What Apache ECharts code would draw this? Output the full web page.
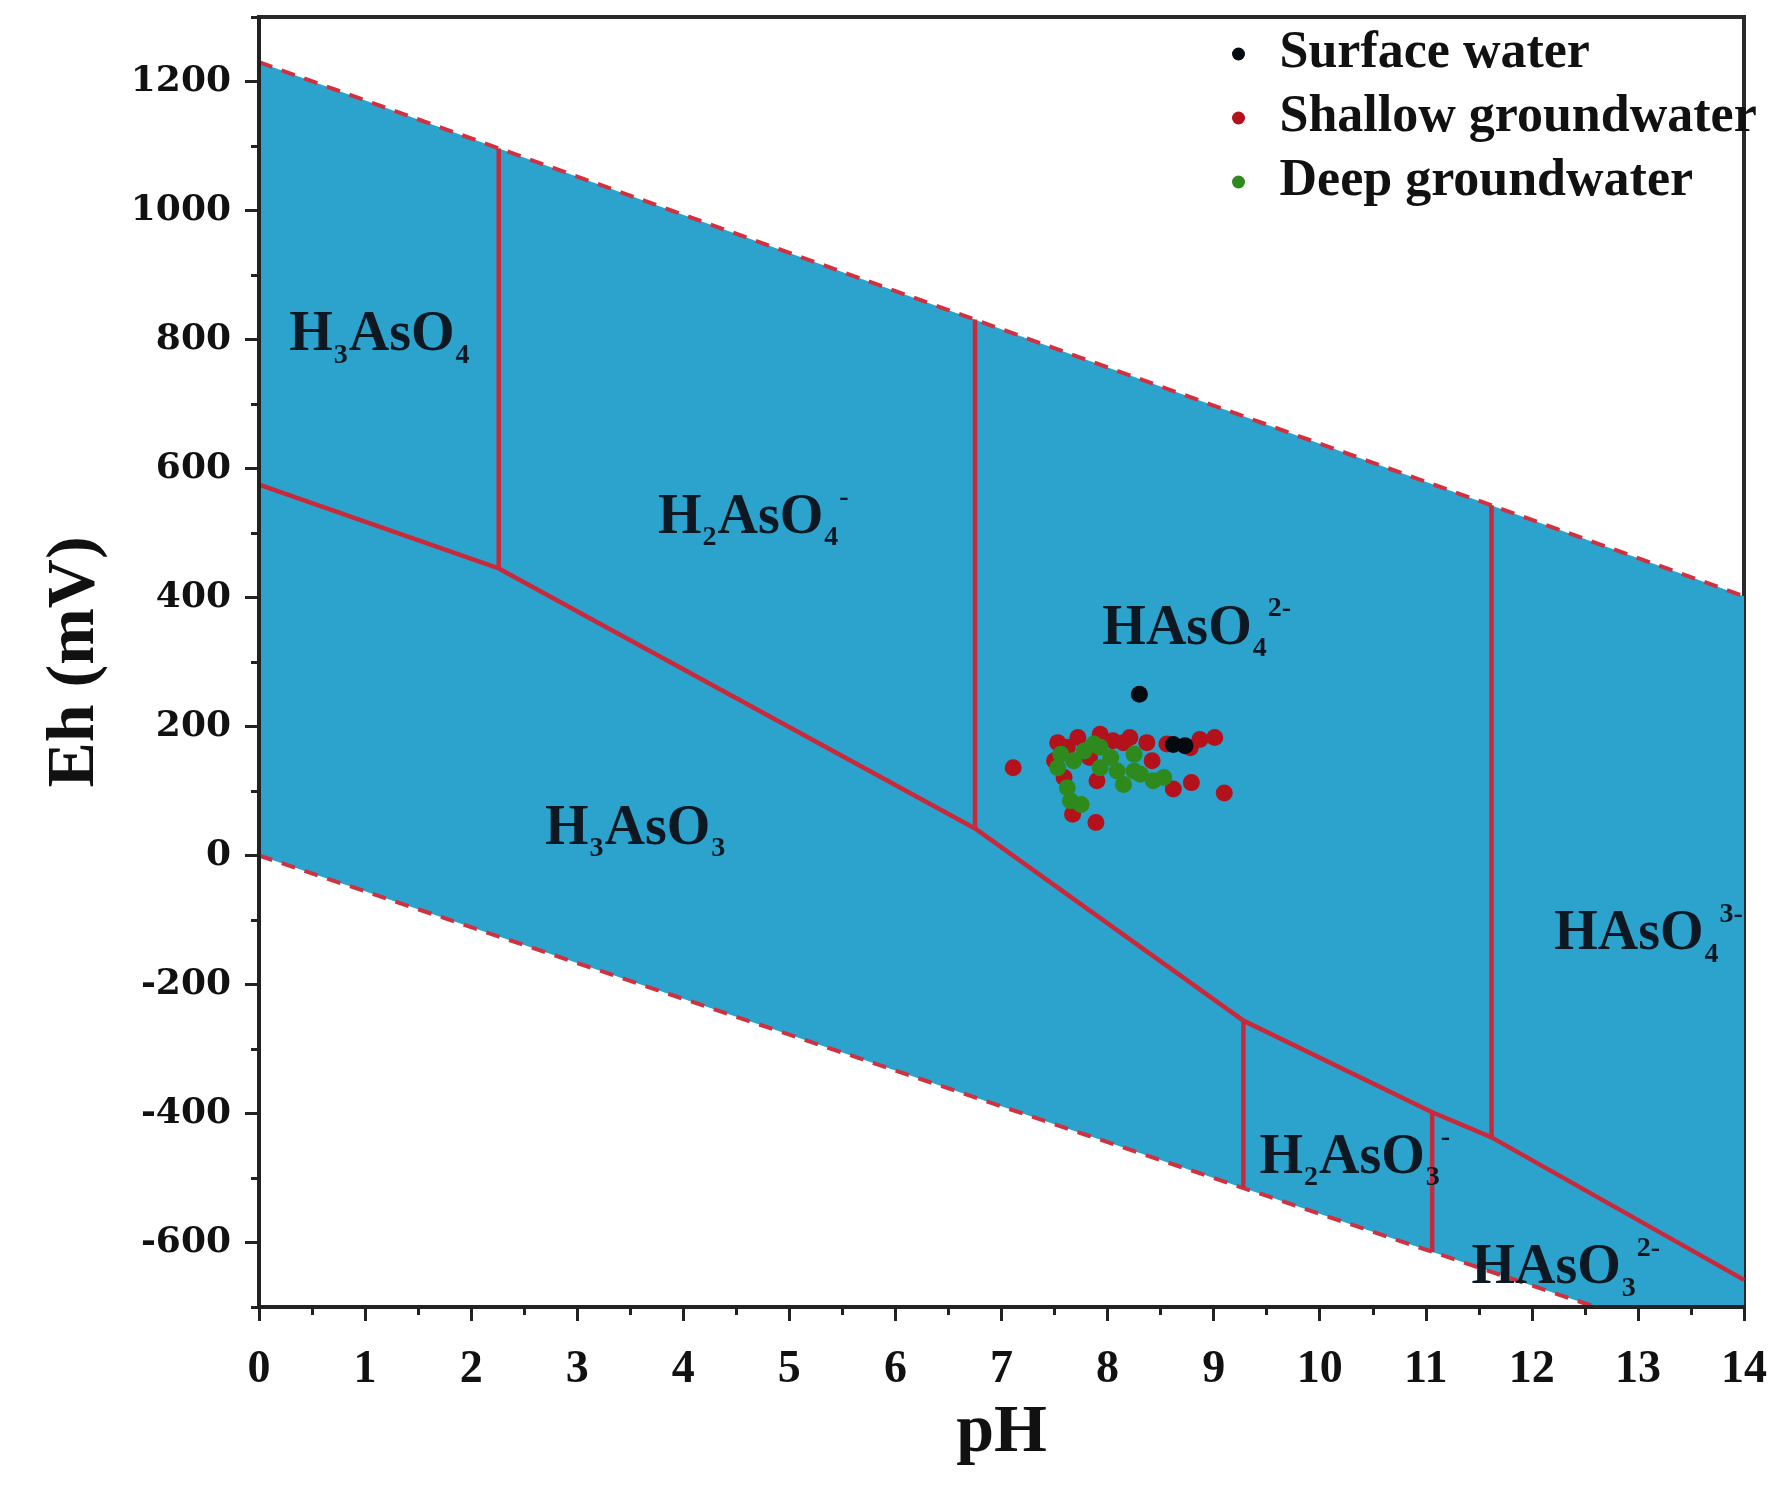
<!DOCTYPE html>
<html><head><meta charset="utf-8">
<script src="https://cdn.jsdelivr.net/npm/echarts@6/dist/echarts.min.js"></script>
<style>html,body{margin:0;padding:0;background:#fff}#c{width:1770px;height:1488px}</style>
</head><body><div id="c"></div>
<script>
// ---- axis ticks ----
const yMajorTicks = [-600,-400,-200,0,200,400,600,800,1000,1200];
const yMinorTicks = [-700,-500,-300,-100,100,300,500,700,900,1100,1300];

// ---- stability field of water (pH, Eh mV) ----
const waterUpper = [[0,1230],[14,402]];
const waterLower = [[0,0],[12.6,-700]];
const stabilityField = [[0,1230],[14,402],[14,-700],[12.6,-700],[0,0]];

// ---- species boundaries ----
const redoxBoundary = [[0,575],[2.26,445],[6.75,42],[9.28,-256],[11.06,-398],[11.62,-437],[14,-658]];
const bH3AsO4 = [[2.26,445],[2.26,1096]];
const bH2AsO4 = [[6.75,42],[6.75,831]];
const bHAsO4  = [[11.62,-437],[11.62,543]];
const bH3AsO3 = [[9.28,-256],[9.28,-515]];
const bH2AsO3 = [[11.06,-398],[11.06,-615]];

// ---- species labels ----
const speciesLabels = [
  {pos:[1.14,823],  text:'{m|H}{s|3}{m|AsO}{s|4}'},
  {pos:[4.66,540],  text:'{m|H}{s|2}{m|AsO}{s|4}{p|-}'},
  {pos:[8.84,368],  text:'{m|HAsO}{s|4}{p|3}'.replace('{p|3}','{p|2-}')},
  {pos:[3.55,58],   text:'{m|H}{s|3}{m|AsO}{s|3}'},
  {pos:[13.1,-106], text:'{m|HAsO}{s|4}{p|3-}'},
  {pos:[10.33,-452],text:'{m|H}{s|2}{m|AsO}{s|3}{p|-}'},
  {pos:[12.32,-624],text:'{m|HAsO}{s|3}{p|2-}'}
];

// ---- samples (pH, Eh mV) ----
const surfaceWater = [[8.30,250],[8.73,170],[8.62,172]];
const shallowGW = [[7.11,136],[7.53,175],[7.72,183],[7.93,188],[8.21,183],[8.15,175],[8.37,175],[8.56,173],
  [8.87,180],[9.01,183],[8.78,167],[7.83,152],[8.42,147],[7.59,121],[7.90,116],[8.62,103],[8.79,113],
  [9.10,97],[7.67,64],[7.89,51],[7.50,147],[8.05,178],[7.62,168]];
const deepGW = [[7.56,157],[7.53,136],[7.68,147],[7.87,173],[7.93,136],[8.09,131],[8.25,157],[8.31,126],
  [8.43,116],[8.53,121],[8.15,110],[7.62,105],[7.65,85],[7.75,79],[7.78,162],[8.03,152],[8.25,131],[7.93,168]];

const FONT = 'Liberation Serif';
const RED = '#c82a3c';

function redLine(data){
  return {type:'line', data:data, symbol:'none', silent:true, z:4,
    lineStyle:{color:RED, width:4.5}};
}

const chart = echarts.init(document.getElementById('c'), null, {renderer:'canvas'});
chart.setOption({
  animation:false,
  backgroundColor:'#fff',
  grid:{left:259, right:15, top:17, bottom:181, show:true, borderColor:'#2a2a2a', borderWidth:4, backgroundColor:'transparent'},
  legend:{
    data:['Surface water','Shallow groundwater','Deep groundwater'],
    orient:'vertical', left:1227, top:23, itemWidth:72, itemHeight:13, itemGap:12, icon:'circle',
    textStyle:{fontFamily:FONT, fontWeight:'bold', fontSize:52, lineHeight:52, color:'#111'}
  },
  xAxis:{
    type:'value', min:0, max:14, interval:1, z:10,
    name:'pH', nameLocation:'middle', nameGap:92,
    nameTextStyle:{fontFamily:FONT, fontWeight:'bold', fontSize:68, color:'#111'},
    axisLine:{show:true, onZero:false, lineStyle:{color:'#222', width:4}},
    axisTick:{show:true, length:14, lineStyle:{color:'#222', width:3}},
    minorTick:{show:true, splitNumber:2, length:8, lineStyle:{color:'#222', width:3}},
    axisLabel:{fontFamily:FONT, fontWeight:'bold', fontSize:46, color:'#111', margin:40},
    splitLine:{show:false}
  },
  yAxis:[{
    type:'value', min:-700, max:1300, z:10,
    name:'Eh (mV)', nameLocation:'middle', nameGap:150, nameRotate:90,
    nameTextStyle:{fontFamily:FONT, fontWeight:'bold', fontSize:68, color:'#111'},
    axisLine:{show:true, onZero:false, lineStyle:{color:'#222', width:4}},
    axisTick:{show:true, length:14, customValues:yMajorTicks, lineStyle:{color:'#222', width:3}},
    axisLabel:{customValues:yMajorTicks, formatter:function(v){return String(v);},
      fontFamily:'DejaVu Serif', fontWeight:'bold', fontSize:36, color:'#111', margin:28},
    splitLine:{show:false}
  },{
    type:'value', min:-700, max:1300, z:10, position:'left',
    axisLine:{show:false},
    axisTick:{show:true, length:8, customValues:yMinorTicks, lineStyle:{color:'#222', width:3}},
    axisLabel:{show:false},
    splitLine:{show:false}
  }],
  series:[
    {type:'custom', silent:true, z:1, clip:true, data:stabilityField,
      encode:{x:0,y:1},
      renderItem:function(params, api){
        if(params.dataIndex!==0) return;
        const pts = stabilityField.map(p=>api.coord(p));
        return {type:'polygon', shape:{points:pts}, style:{fill:'#2ba3cc'}};
      }},
    {type:'line', data:waterUpper, symbol:'none', silent:true, z:3, lineStyle:{color:'#d0303f', width:4, type:[14,10]}},
    {type:'line', data:waterLower, symbol:'none', silent:true, z:3, lineStyle:{color:'#d0303f', width:4, type:[14,10]}},
    redLine(redoxBoundary), redLine(bH3AsO4), redLine(bH2AsO4), redLine(bHAsO4), redLine(bH3AsO3), redLine(bH2AsO3),
    {type:'scatter', silent:true, z:5, symbolSize:1, itemStyle:{color:'rgba(0,0,0,0)', opacity:1},
      data:speciesLabels.map(d=>({value:d.pos, label:{formatter:d.text}})),
      label:{show:true, position:'inside', offset:[0,5], color:'#0e1822',
        rich:{
          m:{fontFamily:FONT, fontWeight:'bold', fontSize:56, lineHeight:56, verticalAlign:'top', padding:[6,0,0,0], color:'#0e1822'},
          s:{fontFamily:FONT, fontWeight:'bold', fontSize:28, lineHeight:28, verticalAlign:'top', padding:[40,1,0,1], color:'#0e1822'},
          p:{fontFamily:FONT, fontWeight:'bold', fontSize:28, lineHeight:28, verticalAlign:'top', padding:[0,0,0,0], color:'#0e1822'}
        }}},
    {name:'Shallow groundwater', type:'scatter', data:shallowGW, symbolSize:17, z:6, itemStyle:{color:'#b3121c', opacity:1}},
    {name:'Deep groundwater', type:'scatter', data:deepGW, symbolSize:17, z:7, itemStyle:{color:'#2e8a1c', opacity:1}},
    {name:'Surface water', type:'scatter', data:surfaceWater, symbolSize:17, z:8, itemStyle:{color:'#050a10', opacity:1}}
  ]
});
</script>
</body></html>
